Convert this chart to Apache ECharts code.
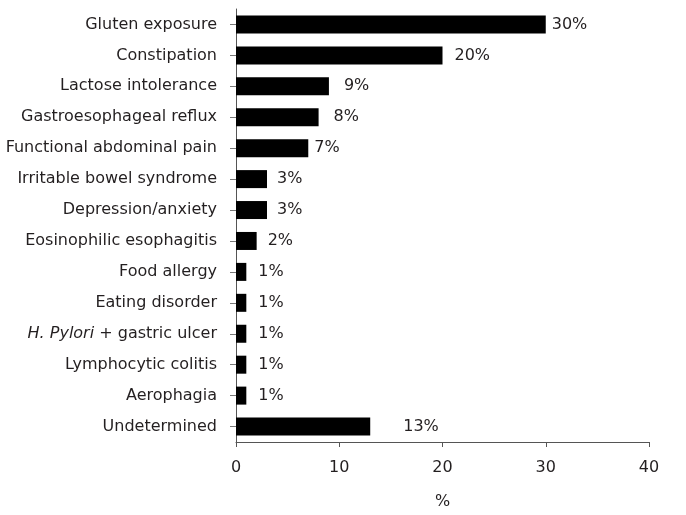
<!DOCTYPE html>
<html>
<head>
<meta charset="utf-8">
<script src="https://cdn.jsdelivr.net/npm/echarts@6/dist/echarts.min.js"></script>
<style>html,body{margin:0;padding:0;background:#fff}#c{width:686px;height:515px}</style>
</head>
<body>
<div id="c"></div>
<script>
const categories = [
  "Gluten exposure",
  "Constipation",
  "Lactose intolerance",
  "Gastroesophageal reflux",
  "Functional abdominal pain",
  "Irritable bowel syndrome",
  "Depression/anxiety",
  "Eosinophilic esophagitis",
  "Food allergy",
  "Eating disorder",
  "H. Pylori + gastric ulcer",
  "Lymphocytic colitis",
  "Aerophagia",
  "Undetermined"
];
const values = [30, 20, 9, 8, 7, 3, 3, 2, 1, 1, 1, 1, 1, 13];
const xTicks = [0, 10, 20, 30, 40];

// label gap (style only), per bar
const labelGap = [6, 12, 15, 15, 6, 10, 10, 11, 12, 12, 12, 12, 12, 33];

const FONT = "DejaVu Sans";
const TXT = "#231f20";

const chart = echarts.init(document.getElementById('c'), null, {renderer: 'canvas'});
chart.setOption({
  animation: false,
  backgroundColor: '#fff',
  grid: {left: 236, right: 37, top: 9, bottom: 72, containLabel: false},
  xAxis: {
    type: 'value',
    min: xTicks[0],
    max: xTicks[xTicks.length - 1],
    interval: 10,
    name: '%',
    nameLocation: 'middle',
    nameGap: 52,
    nameTextStyle: {fontFamily: FONT, fontSize: 16, color: TXT},
    axisLine: {show: true, lineStyle: {color: '#555', width: 1}},
    axisTick: {show: true, length: 5, lineStyle: {color: '#555'}},
    axisLabel: {fontFamily: FONT, fontSize: 16, color: TXT, margin: 18},
    splitLine: {show: false}
  },
  yAxis: {
    type: 'category',
    inverse: true,
    data: categories,
    axisLine: {show: true, lineStyle: {color: '#555', width: 1}},
    axisTick: {show: true, alignWithLabel: true, length: 6, lineStyle: {color: '#777'}},
    axisLabel: {
      fontFamily: FONT, fontSize: 16, color: TXT, margin: 19,
      formatter: function (v) {
        if (v.indexOf('H. Pylori') === 0) {
          return '{i|H. Pylori}{n|' + v.slice(9) + '}';
        }
        return '{n|' + v + '}';
      },
      rich: {
        i: {fontFamily: FONT, fontSize: 16, color: TXT, fontStyle: 'italic'},
        n: {fontFamily: FONT, fontSize: 16, color: TXT}
      }
    }
  },
  series: [{
    type: 'bar',
    barWidth: 18,
    itemStyle: {color: '#000'},
    data: values.map(function (v, i) {
      return {
        value: v,
        label: {distance: labelGap[i]}
      };
    }),
    label: {
      show: true,
      position: 'right',
      fontFamily: FONT,
      fontSize: 16,
      color: TXT,
      formatter: '{c}%'
    }
  }]
});
</script>
</body>
</html>
